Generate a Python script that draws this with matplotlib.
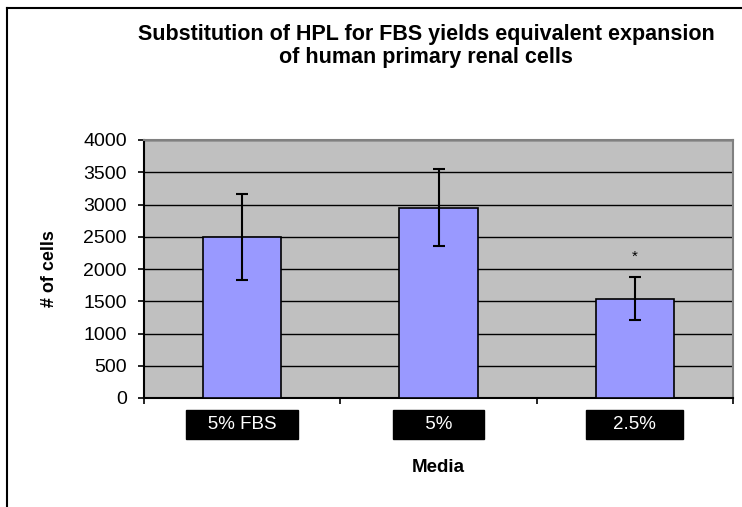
import matplotlib
matplotlib.use("Agg")
import matplotlib.pyplot as plt
from matplotlib.lines import Line2D
import numpy as np

categories = ["5% FBS", "5%", "2.5%"]
values = [2500, 2950, 1540]
errors = [665, 600, 330]
significant = [False, False, True]
yticks = [0, 500, 1000, 1500, 2000, 2500, 3000, 3500, 4000]

title = "Substitution of HPL for FBS yields equivalent expansion\nof human primary renal cells"
xlabel = "Media"
ylabel = "# of cells"

plt.rcParams['font.family'] = ['Liberation Sans', 'DejaVu Sans']

fig = plt.figure(figsize=(7.42, 5.07), dpi=100)
ax = fig.add_axes([144/742, 1-398/507, (733-144)/742, (398-140)/507])
ax.set_facecolor('#C0C0C0')

x = np.arange(len(categories))
ax.bar(x, values, width=0.4, color='#9999FF', edgecolor='black', linewidth=1.2, zorder=3)
ax.errorbar(x, values, yerr=errors, fmt='none', ecolor='black', elinewidth=1.5,
            capsize=4.5, capthick=1.5, zorder=4)
for xi, v, e, s in zip(x, values, errors, significant):
    if s:
        ax.text(xi, v + e + 320, "*", ha='center', va='center', fontsize=11)

ax.set_xlim(-0.5, len(categories) - 0.5)
ax.set_ylim(0, 4000)
ax.set_yticks(yticks)
ax.set_yticklabels([str(t) for t in yticks], fontsize=14)
ax.yaxis.grid(True, color='black', linewidth=1.0, zorder=1)
ax.set_axisbelow(True)

label_pad_spaces = [3, 5, 4]
ax.set_xticks(x)
ax.set_xticklabels([" " * n + c + " " * n for c, n in zip(categories, label_pad_spaces)],
                   fontsize=13.5, color='white')
for lbl in ax.get_xticklabels():
    lbl.set_bbox(dict(facecolor='black', edgecolor='black', boxstyle='square,pad=0.32'))
ax.set_xticks(np.arange(-0.5, len(categories)), minor=True)
ax.tick_params(axis='x', which='major', length=0, pad=13)
ax.tick_params(axis='x', which='minor', length=4, width=1.2, color='black', direction='out')
ax.tick_params(axis='y', length=4.3, width=1.2, color='black', direction='out', pad=8)

for side in ['top', 'right']:
    ax.spines[side].set_color('#808080')
    ax.spines[side].set_linewidth(1.5)
for side in ['left', 'bottom']:
    ax.spines[side].set_color('black')
    ax.spines[side].set_linewidth(1.5)

ax.set_xlabel(xlabel, fontsize=13.5, fontweight='bold')
ax.xaxis.set_label_coords(0.5, -(468-398)/258)
ax.xaxis.label.set_va('center')
ax.set_ylabel(ylabel, fontsize=13, fontweight='bold')
ax.yaxis.set_label_coords((49-144)/589, 0.5)
ax.yaxis.label.set_va('center')

fig.text(426/742, 1-46/507, title, ha='center', va='center', fontsize=15.5,
         fontweight='bold', linespacing=1.1)

fig.add_artist(Line2D([7/742, 7/742], [0, 1-8/507], color='black', linewidth=1.5))
fig.add_artist(Line2D([7/742, 1], [1-8/507, 1-8/507], color='black', linewidth=1.5))

fig.savefig("out.png", dpi=100)
